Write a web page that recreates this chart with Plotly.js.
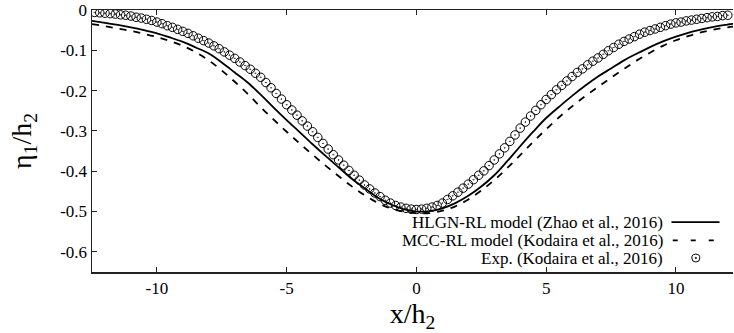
<!DOCTYPE html>
<html>
<head>
<meta charset="utf-8">
<script src="https://cdn.plot.ly/plotly-3.0.1.min.js"></script>
<style>html,body{margin:0;padding:0;background:#fff;}#chart{width:734px;height:333px;}</style>
</head>
<body>
<div id="chart"></div>
<script>
// Model curves (x/h2, eta1/h2)
const xModel = [-12.5,-12,-11.5,-11,-10.5,-10,-9.5,-9,-8.5,-8,-7.5,-7,-6.5,-6,-5.5,-5,-4.5,-4,-3.5,-3,-2.5,-2,-1.5,-1,-0.5,0,0.5,1,1.5,2,2.5,3,3.5,4,4.5,5,5.5,6,6.5,7,7.5,8,8.5,9,9.5,10,10.5,11,11.5,12,12.5];
const hlgn = [-0.027,-0.032,-0.037,-0.043,-0.05,-0.058,-0.068,-0.079,-0.093,-0.108,-0.13,-0.155,-0.18,-0.21,-0.242,-0.273,-0.303,-0.333,-0.362,-0.39,-0.418,-0.442,-0.465,-0.482,-0.494,-0.5,-0.499,-0.492,-0.479,-0.461,-0.438,-0.41,-0.375,-0.338,-0.302,-0.268,-0.24,-0.213,-0.188,-0.165,-0.145,-0.125,-0.108,-0.092,-0.078,-0.066,-0.056,-0.048,-0.041,-0.036,-0.032];
const mcc = [-0.035,-0.04,-0.046,-0.052,-0.059,-0.067,-0.077,-0.089,-0.105,-0.125,-0.15,-0.178,-0.208,-0.241,-0.272,-0.302,-0.331,-0.359,-0.386,-0.412,-0.437,-0.459,-0.478,-0.492,-0.5,-0.504,-0.504,-0.498,-0.487,-0.47,-0.448,-0.422,-0.392,-0.36,-0.327,-0.296,-0.266,-0.239,-0.214,-0.191,-0.168,-0.146,-0.125,-0.106,-0.089,-0.075,-0.064,-0.055,-0.048,-0.043,-0.039];
// Experiment (Kodaira et al., 2016)
const xExp = [-12.4,-12.2,-12.0,-11.8,-11.6,-11.4,-11.2,-11.0,-10.8,-10.6,-10.4,-10.2,-10.0,-9.8,-9.6,-9.4,-9.2,-9.0,-8.8,-8.6,-8.4,-8.2,-8.0,-7.8,-7.6,-7.4,-7.2,-7.0,-6.8,-6.6,-6.4,-6.2,-6.0,-5.8,-5.6,-5.4,-5.2,-5.0,-4.8,-4.6,-4.4,-4.2,-4.0,-3.8,-3.6,-3.4,-3.2,-3.0,-2.8,-2.6,-2.4,-2.2,-2.0,-1.8,-1.6,-1.4,-1.2,-1.0,-0.8,-0.6,-0.4,-0.2,0.0,0.2,0.4,0.6,0.8,1.0,1.2,1.4,1.6,1.8,2.0,2.2,2.4,2.6,2.8,3.0,3.2,3.4,3.6,3.8,4.0,4.2,4.4,4.6,4.8,5.0,5.2,5.4,5.6,5.8,6.0,6.2,6.4,6.6,6.8,7.0,7.2,7.4,7.6,7.8,8.0,8.2,8.4,8.6,8.8,9.0,9.2,9.4,9.6,9.8,10.0,10.2,10.4,10.6,10.8,11.0,11.2,11.4,11.6,11.8,12.0];
const yExp = [-0.006,-0.007,-0.008,-0.009,-0.010,-0.012,-0.013,-0.015,-0.018,-0.020,-0.023,-0.026,-0.030,-0.034,-0.039,-0.043,-0.048,-0.053,-0.058,-0.064,-0.070,-0.076,-0.082,-0.089,-0.096,-0.104,-0.112,-0.120,-0.129,-0.138,-0.147,-0.157,-0.167,-0.180,-0.193,-0.207,-0.221,-0.235,-0.248,-0.261,-0.275,-0.288,-0.302,-0.316,-0.331,-0.345,-0.359,-0.372,-0.385,-0.398,-0.410,-0.422,-0.434,-0.444,-0.454,-0.463,-0.472,-0.479,-0.485,-0.489,-0.492,-0.494,-0.495,-0.494,-0.492,-0.489,-0.485,-0.479,-0.470,-0.461,-0.452,-0.442,-0.432,-0.421,-0.410,-0.399,-0.386,-0.372,-0.357,-0.342,-0.326,-0.310,-0.293,-0.278,-0.263,-0.249,-0.235,-0.222,-0.210,-0.198,-0.187,-0.176,-0.165,-0.155,-0.146,-0.136,-0.127,-0.119,-0.110,-0.101,-0.093,-0.085,-0.078,-0.072,-0.066,-0.060,-0.055,-0.051,-0.047,-0.043,-0.039,-0.035,-0.032,-0.030,-0.027,-0.025,-0.023,-0.021,-0.019,-0.017,-0.016,-0.014,-0.013];

const xTicks = [-10,-5,0,5,10];
const xTickText = ["-10","-5","0","5","10"];
const yTicks = [0,-0.1,-0.2,-0.3,-0.4,-0.5,-0.6];
const yTickText = ["0","-0.1","-0.2","-0.3","-0.4","-0.5","-0.6"];
const legendNames = ["HLGN-RL model (Zhao et al., 2016)","MCC-RL model (Kodaira et al., 2016)","Exp. (Kodaira et al., 2016)"];

const serif = "Liberation Serif";
const traces = [
  {x:xModel, y:hlgn, mode:'lines', line:{color:'#000', width:1.8, shape:'spline'}, name:legendNames[0], hoverinfo:'skip'},
  {x:xModel, y:mcc, mode:'lines', line:{color:'#000', width:1.8, dash:'7px,7px', shape:'spline'}, name:legendNames[1], hoverinfo:'skip'},
  {x:xExp, y:yExp, mode:'markers', marker:{symbol:'circle-open-dot', size:8.5, color:'#000', line:{width:1, color:'#000'}}, name:legendNames[2], hoverinfo:'skip'}
];

const rowY = [0.1907, 0.1209, 0.0534];
const annotations = [];
legendNames.forEach((t,i)=>annotations.push({text:t, xref:'paper', yref:'paper', x:0.892, y:rowY[i], xanchor:'right', yanchor:'middle', showarrow:false, borderpad:0, font:{family:serif, size:17, color:'#000'}}));

const shapes = [
  {type:'line', xref:'paper', yref:'paper', x0:0.904, x1:0.979, y0:rowY[0], y1:rowY[0], line:{color:'#000', width:1.8}},
  {type:'line', xref:'paper', yref:'paper', x0:0.906, x1:0.972, y0:rowY[1], y1:rowY[1], line:{color:'#000', width:1.8, dash:'5px,13px'}},
  {type:'circle', xref:'paper', yref:'paper', xsizemode:'pixel', ysizemode:'pixel', xanchor:0.942, yanchor:rowY[2], x0:-4, x1:4, y0:-4, y1:4, line:{color:'#000', width:1}},
  {type:'circle', xref:'paper', yref:'paper', xsizemode:'pixel', ysizemode:'pixel', xanchor:0.942, yanchor:rowY[2], x0:-0.8, x1:0.8, y0:-0.8, y1:0.8, line:{color:'#000', width:0.5}, fillcolor:'#000'}
];

const layout = {
  width:734, height:333,
  margin:{l:92, r:1, t:10, b:61},
  paper_bgcolor:'#fff', plot_bgcolor:'#fff',
  showlegend:false,
  font:{family:serif, color:'#000'},
  xaxis:{range:[-12.5,12.2], tickvals:xTicks, ticktext:xTickText, ticks:'inside', ticklen:5, tickcolor:'#222', mirror:'ticks', showline:true, linecolor:'#222', linewidth:1.5, showgrid:false, zeroline:false, tickfont:{family:serif, size:17, color:'#000'}, title:{text:'x/h<sub>2</sub>', font:{family:serif, size:28}, standoff:0}},
  yaxis:{range:[-0.65,0], tickvals:yTicks, ticktext:yTickText, ticks:'inside', ticklen:5, tickcolor:'#222', showline:true, linecolor:'#222', linewidth:1.5, showgrid:false, zeroline:false, tickfont:{family:serif, size:17, color:'#000'}, title:{text:'η<sub>1</sub>/h<sub>2</sub>', font:{family:serif, size:28}, standoff:20}},
  annotations:annotations,
  shapes:shapes
};
Plotly.newPlot('chart', traces, layout, {staticPlot:true, displayModeBar:false});
</script>
</body>
</html>
